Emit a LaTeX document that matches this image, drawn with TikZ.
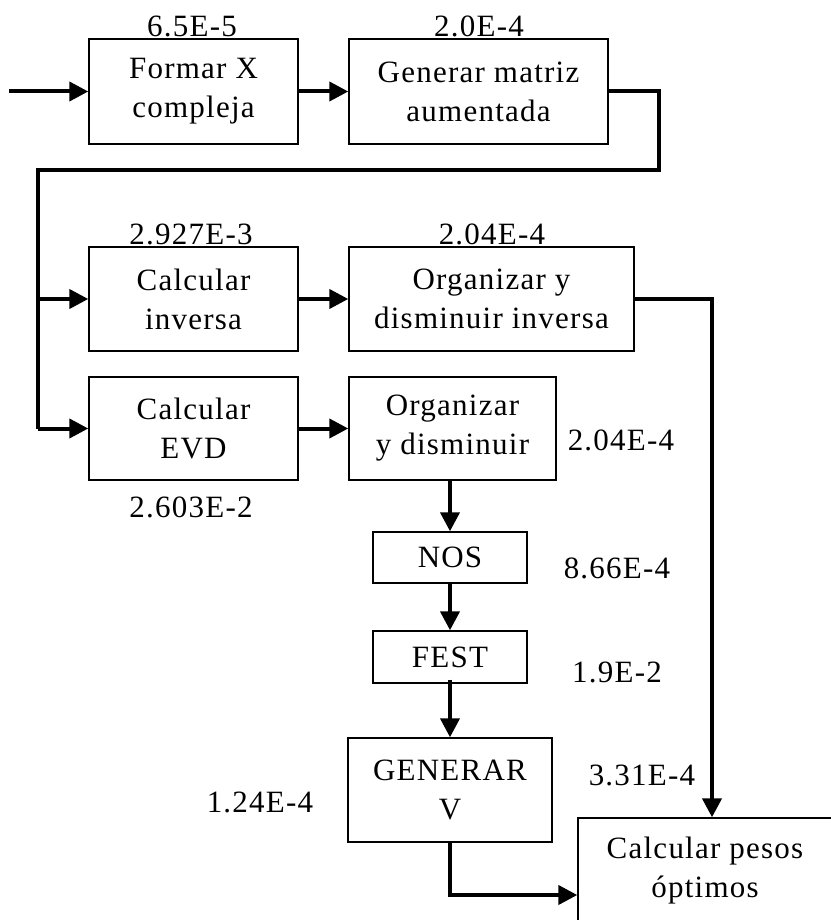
\documentclass[tikz,border=0pt]{standalone}
\usepackage{fontspec}
\newfontfamily\tfont{Liberation Serif}[LetterSpace=4]
\usetikzlibrary{arrows.meta}
\begin{document}
\begin{tikzpicture}[x=1pt,y=-1pt,
  box/.style={draw, line width=1.4pt, inner sep=0pt, align=center,
    font=\tfont\fontsize{31}{39}\selectfont},
  lbl/.style={inner sep=0pt, font=\tfont\fontsize{31}{39}\selectfont},
  conn/.style={line width=4pt},
  arr/.style={line width=4pt, -{Triangle[length=19pt,width=19pt]}}]
\useasboundingbox (0,0) rectangle (830,920);
% boxes
\node[box, minimum width=209pt, minimum height=105pt] (b1) at (193.5,91.5) {Formar X\\compleja};
\node[box, minimum width=259pt, minimum height=105pt] (b2) at (478.5,91.5) {Generar matriz\\aumentada};
\node[box, minimum width=209pt, minimum height=104pt] (inv) at (193.5,299) {Calcular\\inversa};
\node[box, minimum width=285pt, minimum height=104pt] (oi) at (491.5,299) {Organizar y\\disminuir inversa};
\node[box, minimum width=209pt, minimum height=103pt] (evd) at (193.5,428.5) {Calcular\\EVD};
\node[box, minimum width=207pt, minimum height=103pt] (od) at (452.5,428.5) {Organizar\\y disminuir};
\node[box, minimum width=154pt, minimum height=51pt] (nos) at (450,557.5) {NOS};
\node[box, minimum width=154pt, minimum height=52pt] (fest) at (450,657) {FEST};
\node[box, minimum width=204pt, minimum height=104pt] (gen) at (450,790) {GENERAR\\V};
\node[box, minimum width=254pt, minimum height=105pt] (pesos) at (705,870.5) {Calcular pesos\\óptimos};
% labels
\node[lbl] (l1) at (192,26) {6.5E-5};
\node[lbl] (l2) at (479,26) {2.0E-4};
\node[lbl] (l3) at (191,234) {2.927E-3};
\node[lbl] (l4) at (492,234) {2.04E-4};
\node[lbl] (l5) at (621,440) {2.04E-4};
\node[lbl] (l6) at (191,507) {2.603E-2};
\node[lbl] (l7) at (617,568) {8.66E-4};
\node[lbl] (l8) at (617,672) {1.9E-2};
\node[lbl] (l9) at (642,775) {3.31E-4};
\node[lbl] (l10) at (260,802) {1.24E-4};
% coordinates
\coordinate (in) at (9,91.5);
\coordinate (c1) at (659,91.5);
\coordinate (c2) at (659,170);
\coordinate (c3) at (38,170);
\coordinate (c4) at (712,299);
\coordinate (c5) at (450,895);
% connectors
\draw[arr] (in) -- (b1.west);
\draw[arr] (b1.east) -- (b2.west);
\draw[conn] (b2.east) -- (c1) -- (c2) -- (c3) -- (c3 |- evd.west);
\draw[arr] (c3 |- evd.west) -- (evd.west);
\draw[arr] (c3 |- inv.west) -- (inv.west);
\draw[arr] (inv.east) -- (oi.west);
\draw[arr] (evd.east) -- (od.west);
\draw[arr] (oi.east) -- (c4) -- (c4 |- pesos.north);
\draw[arr] (nos.north |- od.south) -- (nos.north);
\draw[arr] (nos.south) -- (fest.north);
\draw[arr] ([yshift=4pt]fest.south) -- (gen.north);
\draw[arr] (gen.south) -- (c5) -- (c5 -| pesos.west);
\end{tikzpicture}
\end{document}
